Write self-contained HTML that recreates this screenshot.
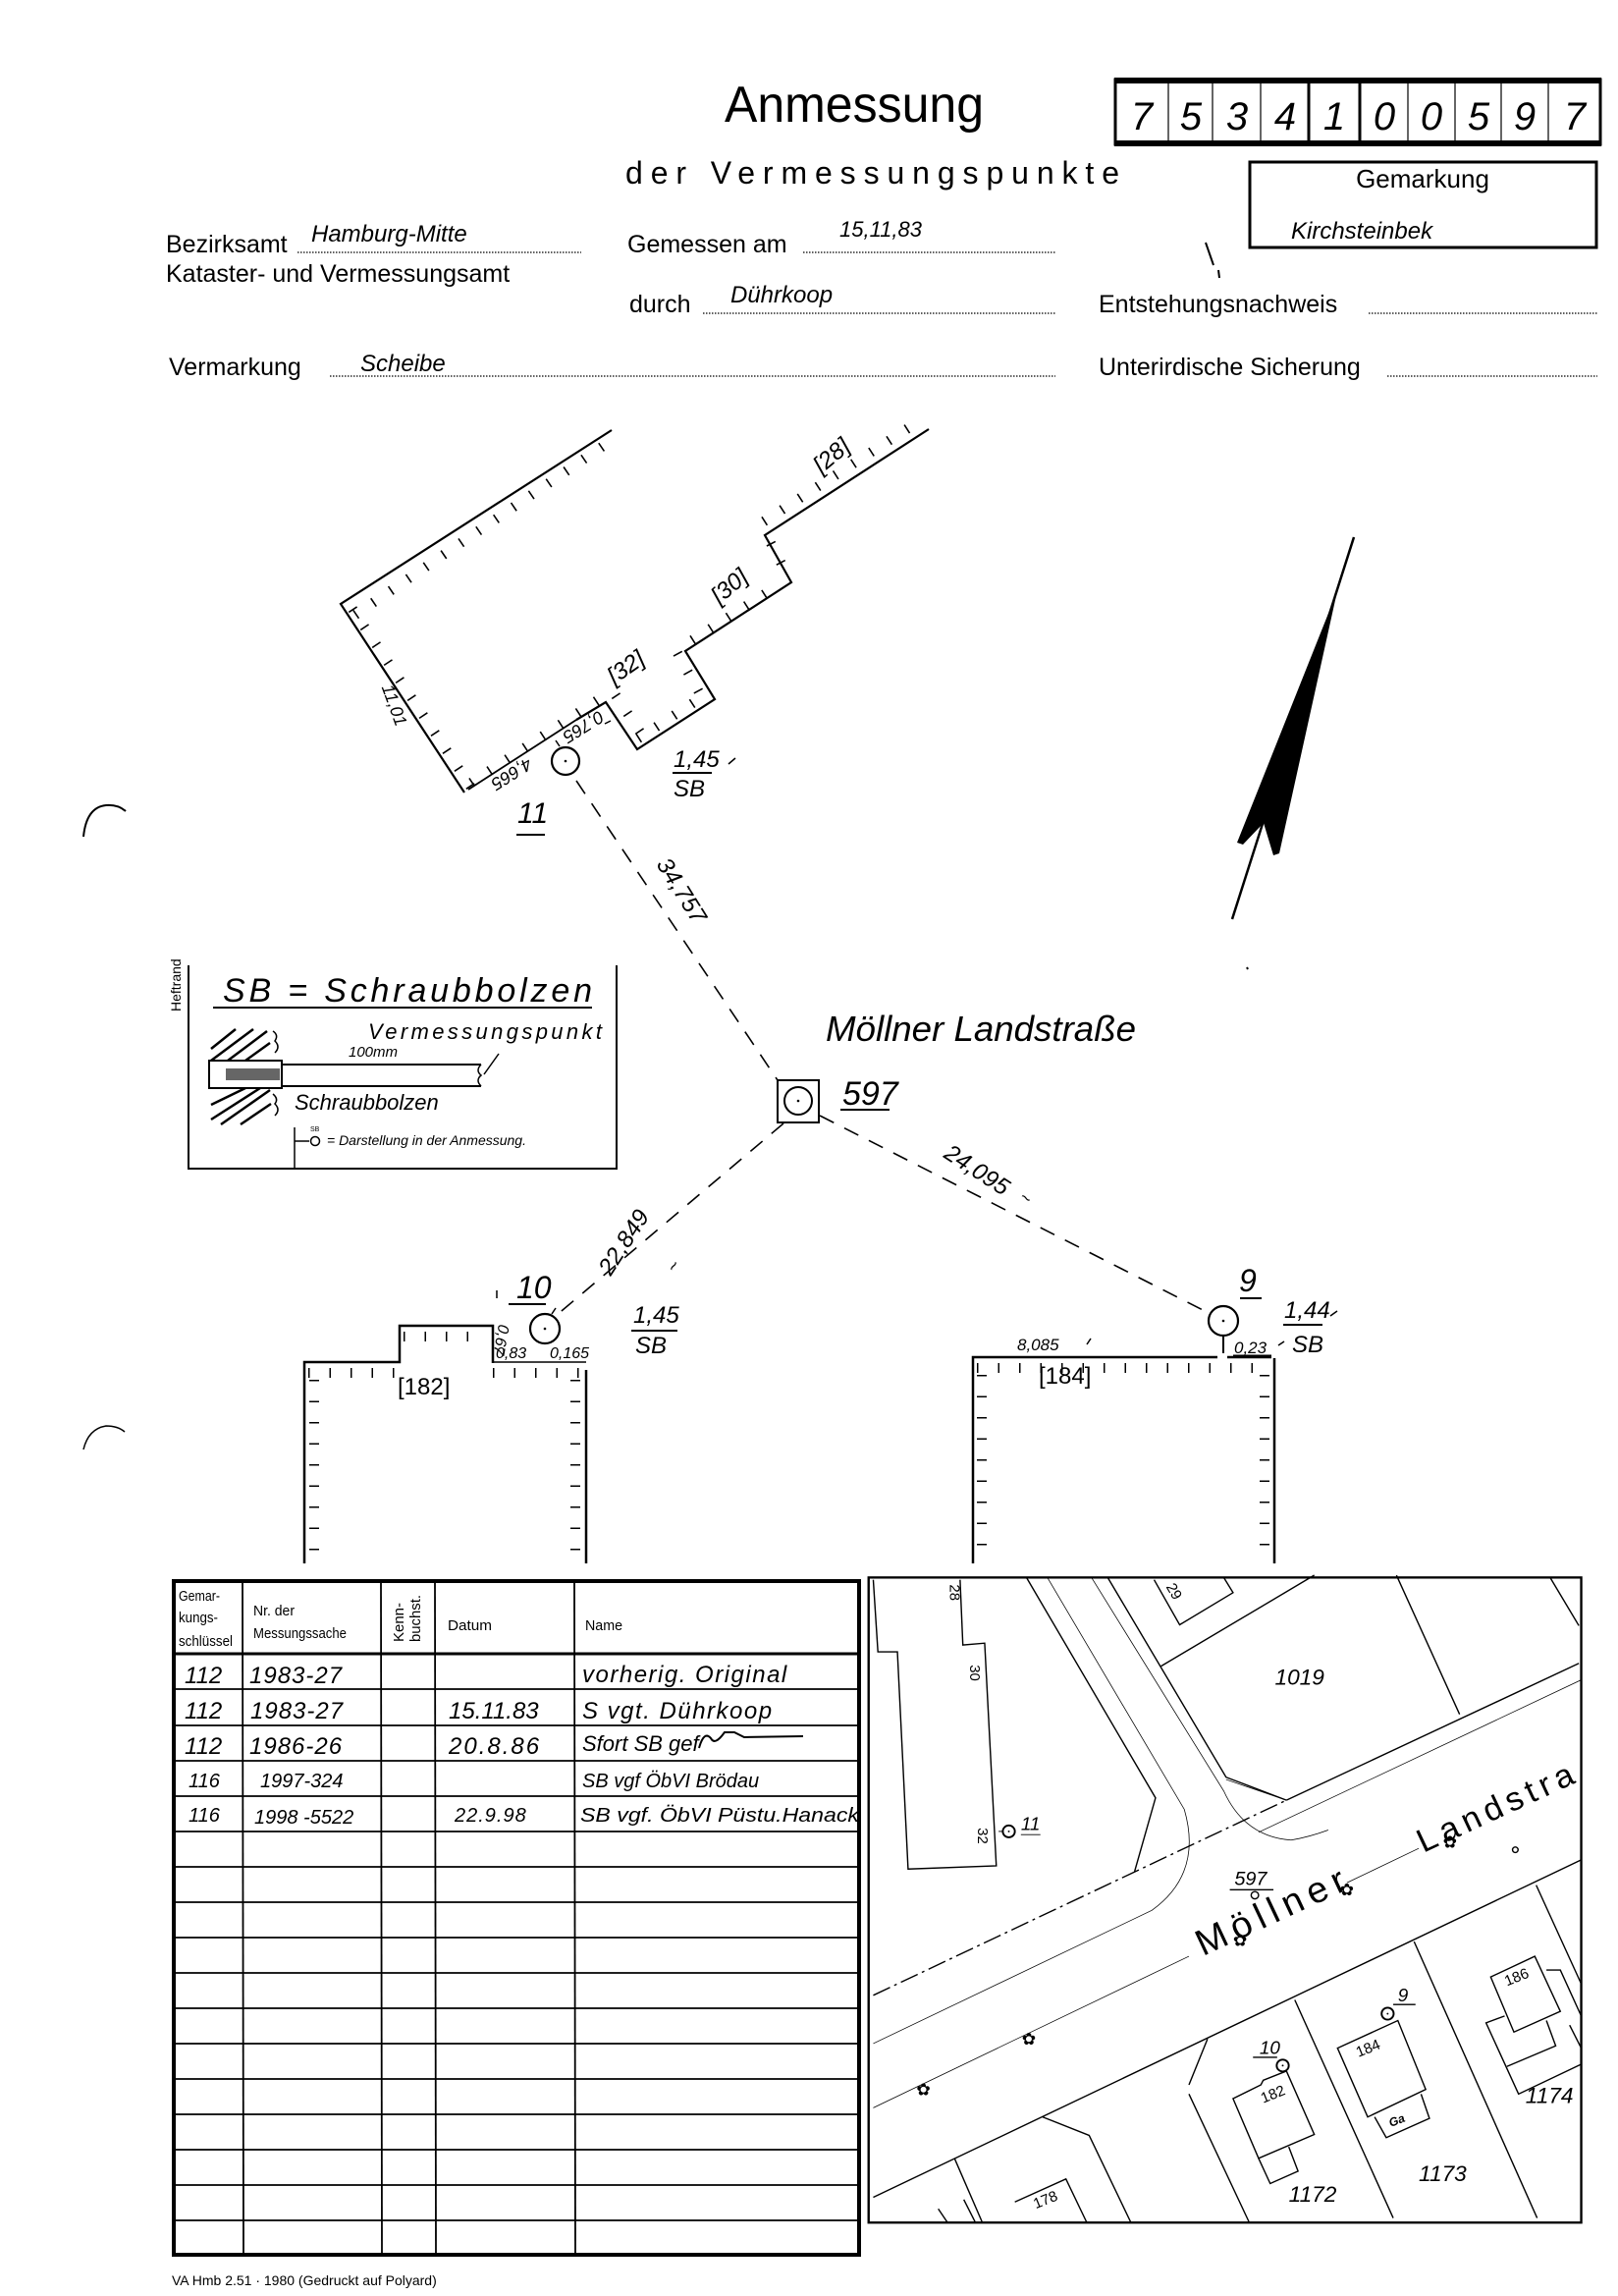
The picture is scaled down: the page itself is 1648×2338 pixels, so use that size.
<!DOCTYPE html>
<html><head><meta charset="utf-8"><style>
html,body{margin:0;padding:0;background:#fff}
svg{display:block}
text{font-family:"Liberation Sans",sans-serif;fill:#000}
.h{font-style:italic}
</style></head><body>
<svg width="1648" height="2338" viewBox="0 0 1648 2338" xmlns="http://www.w3.org/2000/svg">
<!-- HEADER -->
<text x="738" y="124" font-size="52" textLength="264" lengthAdjust="spacingAndGlyphs">Anmessung</text>
<text x="637" y="187" font-size="32" textLength="503" lengthAdjust="spacing">der Vermessungspunkte</text>
<rect x="1136" y="81" width="494" height="66" fill="none" stroke="#000" stroke-width="3"/>
<rect x="1135" y="79" width="496" height="6" fill="#000"/>
<rect x="1135" y="143" width="496" height="6" fill="#000"/>
<g stroke="#000" stroke-width="1.2">
<line x1="1190" y1="82" x2="1190" y2="146"/><line x1="1235" y1="82" x2="1235" y2="146"/><line x1="1284" y1="82" x2="1284" y2="146"/>
<line x1="1434" y1="82" x2="1434" y2="146"/><line x1="1482" y1="82" x2="1482" y2="146"/><line x1="1529" y1="82" x2="1529" y2="146"/><line x1="1577" y1="82" x2="1577" y2="146"/>
</g>
<g stroke="#000" stroke-width="3"><line x1="1333" y1="82" x2="1333" y2="146"/><line x1="1385" y1="82" x2="1385" y2="146"/></g>
<g font-size="40" class="h" text-anchor="middle">
<text x="1163" y="132" class="h">7</text><text x="1213" y="132" class="h">5</text><text x="1260" y="132" class="h">3</text><text x="1309" y="132" class="h">4</text><text x="1359" y="132" class="h">1</text><text x="1410" y="132" class="h">0</text><text x="1458" y="132" class="h">0</text><text x="1506" y="132" class="h">5</text><text x="1553" y="132" class="h">9</text><text x="1604" y="132" class="h">7</text>
</g>
<rect x="1273" y="165" width="353" height="87" fill="none" stroke="#000" stroke-width="3"/>
<text x="1449" y="191" font-size="26" text-anchor="middle">Gemarkung</text>
<text x="1315" y="243" font-size="24" class="h">Kirchsteinbek</text>
<path d="M1228 247 L1236 270 M1241 275 L1242 283" stroke="#000" stroke-width="2" fill="none"/>
<g font-size="25">
<text x="169" y="257">Bezirksamt</text>
<text x="169" y="287">Kataster- und Vermessungsamt</text>
<text x="639" y="257">Gemessen am</text>
<text x="641" y="318">durch</text>
<text x="1119" y="318">Entstehungsnachweis</text>
<text x="172" y="382">Vermarkung</text>
<text x="1119" y="382">Unterirdische Sicherung</text>
</g>
<g font-size="24" class="h">
<text x="317" y="246" class="h">Hamburg-Mitte</text>
<text x="855" y="241" font-size="22" class="h">15,11,83</text>
<text x="744" y="308" class="h">Dührkoop</text>
<text x="367" y="378" class="h">Scheibe</text>
</g>
<g stroke="#000" stroke-width="1.2" stroke-dasharray="1.5 1.5">
<line x1="303" y1="257" x2="592" y2="257"/>
<line x1="818" y1="257" x2="1075" y2="257"/>
<line x1="716" y1="319" x2="1075" y2="319"/>
<line x1="1394" y1="319" x2="1627" y2="319"/>
<line x1="336" y1="383" x2="1075" y2="383"/>
<line x1="1413" y1="383" x2="1627" y2="383"/>
</g>
<path d="M85 852 Q88 822 108 820 Q120 819 128 826" fill="none" stroke="#000" stroke-width="2"/>
<path d="M85 1476 Q90 1455 108 1452 Q120 1452 127 1458" fill="none" stroke="#000" stroke-width="1.5"/>

<!-- BUILDING 11 -->
<polyline points="623,438 347,615 473,807" fill="none" stroke="#000" stroke-width="2.2"/>
<polyline points="477,804 587,733" fill="none" stroke="#000" stroke-width="1.8"/>
<polyline points="587,733 617,715 649,763 728,712 698,663 806,593 779,545 946,437" fill="none" stroke="#000" stroke-width="2.2"/>
<g stroke="#000" stroke-width="10" stroke-dasharray="1.6 20" fill="none">
<line x1="362" y1="626" x2="616" y2="453"/>
<line x1="359" y1="620" x2="482" y2="805"/>
<line x1="480" y1="797" x2="610" y2="712"/>
<line x1="627" y1="708" x2="659" y2="756"/>
<line x1="650" y1="752" x2="718" y2="708"/>
<line x1="690" y1="665" x2="712" y2="705"/>
<line x1="705" y1="652" x2="796" y2="594"/>
<line x1="785" y1="553" x2="800" y2="582"/>
<line x1="778" y1="531" x2="939" y2="427"/>
</g>
<g font-size="24" class="h">
<text transform="translate(852,470) rotate(-40)" text-anchor="middle">[28]</text>
<text transform="translate(748,603) rotate(-40)" text-anchor="middle">[30]</text>
<text transform="translate(642,686) rotate(-35)" text-anchor="middle">[32]</text>
<text transform="translate(396,720) rotate(70)" font-size="18" text-anchor="middle">11,01</text>
<text transform="translate(518,783) rotate(148)" font-size="18" text-anchor="middle">4,665</text>
<text transform="translate(591,735) rotate(148)" font-size="18" text-anchor="middle">0,765</text>
</g>
<line x1="616" y1="737" x2="622" y2="734" stroke="#000" stroke-width="1.5"/>
<circle cx="576" cy="775" r="14" fill="none" stroke="#000" stroke-width="2.2"/>
<circle cx="576" cy="775" r="1.3"/>
<line x1="570" y1="760" x2="566" y2="754" stroke="#000" stroke-width="1.5"/>
<text x="527" y="838" font-size="30" class="h">11</text>
<line x1="526" y1="850" x2="555" y2="850" stroke="#000" stroke-width="2"/>
<text x="686" y="781" font-size="24" class="h">1,45</text>
<line x1="685" y1="787" x2="725" y2="787" stroke="#000" stroke-width="2"/>
<text x="686" y="811" font-size="24" class="h">SB</text>
<line x1="742" y1="778" x2="749" y2="772" stroke="#000" stroke-width="1.5"/>

<g stroke="#000" stroke-width="1.6" stroke-dasharray="16 12" fill="none">
<line x1="587" y1="795" x2="792" y2="1100"/>
<line x1="798" y1="1144" x2="566" y2="1340"/>
<line x1="835" y1="1136" x2="1233" y2="1338"/>
</g>
<text transform="translate(668,880) rotate(58)" font-size="24" class="h">34,757</text>
<text transform="translate(622,1300) rotate(-57)" font-size="24" class="h">22,849</text>
<text transform="translate(960,1178) rotate(33)" font-size="24" class="h">24,095</text>
<text transform="translate(688,1297) rotate(-57)" font-size="18" class="h">~</text>
<text transform="translate(1037,1222) rotate(33)" font-size="18" class="h">~</text>

<rect x="792" y="1100" width="42" height="43" fill="none" stroke="#000" stroke-width="2"/>
<circle cx="813" cy="1121" r="14" fill="none" stroke="#000" stroke-width="2"/>
<circle cx="813" cy="1121" r="1.3"/>
<text x="858" y="1125" font-size="34" class="h">597</text>
<line x1="856" y1="1130" x2="906" y2="1130" stroke="#000" stroke-width="2"/>
<text x="841" y="1060" font-size="36" class="h" textLength="316" lengthAdjust="spacingAndGlyphs">Möllner Landstraße</text>

<line x1="1379" y1="547" x2="1255" y2="936" stroke="#000" stroke-width="2.5"/>
<polygon points="1362,602 1260,858 1266,860 1287,838 1297,871 1303,869" fill="#000"/>
<path d="M1270 985 l1 2" stroke="#000" stroke-width="2"/>

<!-- Legend -->
<polyline points="192,983 192,1190 628,1190 628,983" fill="none" stroke="#000" stroke-width="2"/>
<text transform="translate(184,1030) rotate(-90)" font-size="14">Heftrand</text>
<text x="227" y="1020" font-size="34" class="h" textLength="376" lengthAdjust="spacing">SB = Schraubbolzen</text>
<line x1="217" y1="1026" x2="603" y2="1026" stroke="#000" stroke-width="2"/>
<text x="375" y="1058" font-size="22" class="h" textLength="238" lengthAdjust="spacing">Vermessungspunkt</text>
<text x="355" y="1076" font-size="15" class="h">100mm</text>
<g stroke="#000" stroke-width="2.5">
<line x1="215" y1="1068" x2="240" y2="1048"/><line x1="215" y1="1080" x2="258" y2="1048"/><line x1="232" y1="1080" x2="272" y2="1050"/><line x1="250" y1="1080" x2="275" y2="1062"/>
<line x1="215" y1="1125" x2="250" y2="1108"/><line x1="215" y1="1140" x2="265" y2="1108"/><line x1="225" y1="1145" x2="275" y2="1110"/><line x1="245" y1="1145" x2="276" y2="1124"/>
</g>
<rect x="213" y="1080" width="74" height="28" fill="none" stroke="#000" stroke-width="2"/>
<rect x="230" y="1088" width="55" height="12" fill="#000" opacity=".6"/>
<line x1="287" y1="1084" x2="490" y2="1084" stroke="#000" stroke-width="2"/>
<line x1="287" y1="1106" x2="490" y2="1106" stroke="#000" stroke-width="2"/>
<path d="M490 1084 q-6 6 0 11 q-6 5 0 11 M493 1094 L508 1073" fill="none" stroke="#000" stroke-width="1.5"/>
<path d="M278 1050 q6 4 2 10 q6 6 0 12 M278 1114 q6 5 2 10 q6 6 0 12" fill="none" stroke="#000" stroke-width="1.5"/>
<text x="300" y="1130" font-size="22" class="h">Schraubbolzen</text>
<polyline points="300,1148 300,1190" stroke="#000" stroke-width="1.5"/>
<line x1="300" y1="1162" x2="315" y2="1162" stroke="#000" stroke-width="1.5"/>
<circle cx="321" cy="1162" r="4.5" fill="none" stroke="#000" stroke-width="1.5"/>
<text x="316" y="1152" font-size="7">SB</text>
<text x="333" y="1166" font-size="14" class="h">= Darstellung in der Anmessung.</text>

<!-- Building 182 -->
<polyline points="310,1592 310,1387 407,1387 407,1350 502,1350 502,1388" fill="none" stroke="#000" stroke-width="2.5"/>
<line x1="502" y1="1387" x2="597" y2="1387" stroke="#000" stroke-width="1.5"/>
<line x1="597" y1="1395" x2="597" y2="1592" stroke="#000" stroke-width="2.5"/>
<g stroke="#000" stroke-width="10" stroke-dasharray="1.5 20" fill="none">
<line x1="314" y1="1398" x2="404" y2="1398"/><line x1="411" y1="1361" x2="496" y2="1361"/><line x1="502" y1="1398" x2="592" y2="1398"/>
<line x1="320" y1="1405" x2="320" y2="1590"/><line x1="586" y1="1405" x2="586" y2="1590"/>
</g>
<text x="405" y="1420" font-size="24">[182]</text>
<circle cx="555" cy="1353" r="15" fill="none" stroke="#000" stroke-width="2.2"/>
<circle cx="555" cy="1353" r="1.3"/>
<line x1="562" y1="1338" x2="566" y2="1332" stroke="#000" stroke-width="1.5"/>
<text x="526" y="1322" font-size="32" class="h">10</text>
<line x1="518" y1="1328" x2="556" y2="1328" stroke="#000" stroke-width="2"/>
<text x="505" y="1383" font-size="16" class="h">0,83</text>
<text x="560" y="1383" font-size="16" class="h">0,165</text>
<text transform="translate(508,1348) rotate(100)" font-size="16" class="h">0,67</text>
<line x1="506" y1="1314" x2="506" y2="1322" stroke="#000" stroke-width="1.5"/>
<text x="645" y="1347" font-size="24" class="h">1,45</text>
<line x1="643" y1="1355" x2="690" y2="1355" stroke="#000" stroke-width="2"/>
<text x="647" y="1378" font-size="24" class="h">SB</text>

<!-- Building 184 -->
<polyline points="991,1592 991,1382 1240,1382" fill="none" stroke="#000" stroke-width="2.5"/>
<line x1="1250" y1="1382" x2="1295" y2="1382" stroke="#000" stroke-width="2.5"/>
<line x1="1298" y1="1383" x2="1298" y2="1592" stroke="#000" stroke-width="2.5"/>
<g stroke="#000" stroke-width="10" stroke-dasharray="1.5 20" fill="none">
<line x1="995" y1="1393" x2="1295" y2="1393"/><line x1="1000" y1="1400" x2="1000" y2="1590"/><line x1="1288" y1="1400" x2="1288" y2="1590"/>
</g>
<text x="1058" y="1409" font-size="24">[184]</text>
<text x="1036" y="1375" font-size="17" class="h">8,085</text>
<line x1="1107" y1="1369" x2="1111" y2="1363" stroke="#000" stroke-width="1.5"/>
<circle cx="1246" cy="1345" r="15" fill="none" stroke="#000" stroke-width="2.2"/>
<circle cx="1246" cy="1345" r="1.3"/>
<line x1="1246" y1="1360" x2="1246" y2="1378" stroke="#000" stroke-width="2"/>
<text x="1262" y="1315" font-size="32" class="h">9</text>
<line x1="1263" y1="1322" x2="1285" y2="1322" stroke="#000" stroke-width="2"/>
<text x="1257" y="1378" font-size="17" class="h">0,23</text>
<line x1="1256" y1="1381" x2="1295" y2="1381" stroke="#000" stroke-width="3"/>
<text x="1308" y="1342" font-size="24" class="h">1,44</text>
<line x1="1307" y1="1349" x2="1347" y2="1349" stroke="#000" stroke-width="2"/>
<text x="1316" y="1377" font-size="24" class="h">SB</text>
<line x1="1302" y1="1370" x2="1308" y2="1366" stroke="#000" stroke-width="1.5"/>
<line x1="1355" y1="1340" x2="1362" y2="1335" stroke="#000" stroke-width="1.5"/>

<!-- TABLE -->
<rect x="177" y="1610" width="698" height="686" fill="none" stroke="#000" stroke-width="4"/>
<line x1="177" y1="1684" x2="875" y2="1684" stroke="#000" stroke-width="3"/>
<g stroke="#000" stroke-width="1.8">
<line x1="247" y1="1610" x2="248" y2="2296"/><line x1="388" y1="1610" x2="389" y2="2296"/><line x1="443" y1="1610" x2="444" y2="2296"/><line x1="585" y1="1610" x2="586" y2="2296"/>
<line x1="177" y1="1720" x2="875" y2="1720"/><line x1="177" y1="1757" x2="875" y2="1757"/><line x1="177" y1="1793" x2="875" y2="1793"/><line x1="177" y1="1829" x2="875" y2="1829"/><line x1="177" y1="1865" x2="875" y2="1865"/>
<line x1="177" y1="1901" x2="875" y2="1901"/><line x1="177" y1="1937" x2="875" y2="1937"/><line x1="177" y1="1973" x2="875" y2="1973"/><line x1="177" y1="2009" x2="875" y2="2009"/><line x1="177" y1="2045" x2="875" y2="2045"/>
<line x1="177" y1="2081" x2="875" y2="2081"/><line x1="177" y1="2117" x2="875" y2="2117"/><line x1="177" y1="2153" x2="875" y2="2153"/><line x1="177" y1="2189" x2="875" y2="2189"/><line x1="177" y1="2225" x2="875" y2="2225"/><line x1="177" y1="2261" x2="875" y2="2261"/>
</g>
<g font-size="15">
<text x="182" y="1630" textLength="42" lengthAdjust="spacingAndGlyphs">Gemar-</text>
<text x="182" y="1652" textLength="40" lengthAdjust="spacingAndGlyphs">kungs-</text>
<text x="182" y="1676" textLength="55" lengthAdjust="spacingAndGlyphs">schlüssel</text>
<text x="258" y="1645" textLength="42" lengthAdjust="spacingAndGlyphs">Nr. der</text>
<text x="258" y="1668" textLength="95" lengthAdjust="spacingAndGlyphs">Messungssache</text>
<text transform="translate(411,1672) rotate(-90)" textLength="40" lengthAdjust="spacingAndGlyphs">Kenn-</text>
<text transform="translate(428,1672) rotate(-90)" textLength="48" lengthAdjust="spacingAndGlyphs">buchst.</text>
<text x="456" y="1660" textLength="45" lengthAdjust="spacingAndGlyphs">Datum</text>
<text x="596" y="1660" textLength="38" lengthAdjust="spacingAndGlyphs">Name</text>
</g>
<g font-size="24" class="h">
<text x="188" y="1714" class="h">112</text><text x="254" y="1714" class="h" letter-spacing="1">1983-27</text><text x="593" y="1713" class="h" letter-spacing="1.5">vorherig. Original</text>
<text x="188" y="1750" class="h">112</text><text x="255" y="1750" class="h" letter-spacing="1">1983-27</text><text x="457" y="1750" class="h">15.11.83</text><text x="593" y="1750" class="h" letter-spacing="1.5">S vgt. Dührkoop</text>
<text x="188" y="1786" class="h">112</text><text x="254" y="1786" class="h" letter-spacing="1">1986-26</text><text x="457" y="1786" class="h" letter-spacing="2">20.8.86</text><text x="593" y="1783" class="h" font-size="22">Sfort SB gef</text>
</g>
<path d="M712 1780 q5 -18 12 -10 q4 8 14 -6 l10 0 l10 5 l60 -1" fill="none" stroke="#000" stroke-width="2"/>
<g font-size="20" class="h">
<text x="192" y="1820" class="h">116</text><text x="265" y="1820" class="h">1997-324</text><text x="593" y="1820" class="h">SB vgf ÖbVI Brödau</text>
<text x="192" y="1855" class="h">116</text><text x="259" y="1857" class="h">1998 -5522</text><text x="463" y="1855" class="h" letter-spacing="1">22.9.98</text><text x="591" y="1855" class="h" textLength="284" lengthAdjust="spacingAndGlyphs">SB vgf. ÖbVI Püstu.Hanack</text>
</g>
<text x="175" y="2327" font-size="14">VA Hmb 2.51 · 1980 (Gedruckt auf Polyard)</text>

<!-- MAP -->
<svg x="880" y="1590" width="740" height="720" viewBox="0 0 1565 1540" preserveAspectRatio="none">
<rect x="10" y="35" width="1535" height="1405" fill="none" stroke="#000" stroke-width="5"/>
<g fill="none" stroke="#000" stroke-width="3">
<polyline points="20,40 30,197 72,197 95,670 285,663 260,178 213,182 207,40"/>
<polyline points="350,35 628,515 583,675"/>
<polyline points="525,35 780,470 910,520"/>
<polyline points="625,40 680,138 795,68 775,35"/>
<line x1="640" y1="228" x2="970" y2="30"/>
<line x1="1147" y1="30" x2="1283" y2="333"/>
<line x1="1478" y1="35" x2="1540" y2="140"/>
<line x1="910" y1="520" x2="1540" y2="222"/>
<line x1="20" y1="1385" x2="1545" y2="650"/>
<line x1="195" y1="1300" x2="255" y2="1440"/>
<polyline points="385,1210 485,1250 575,1440"/>
<line x1="740" y1="1040" x2="700" y2="1140"/>
<line x1="700" y1="1160" x2="830" y2="1440"/>
<line x1="928" y1="955" x2="1140" y2="1430"/>
<line x1="1185" y1="828" x2="1450" y2="1430"/>
<line x1="1448" y1="705" x2="1545" y2="920"/>
<polygon points="795,1170 855,1140 860,1130 910,1110 970,1248 850,1300"/>
<polyline points="850,1300 875,1355 935,1328 915,1275"/>
<polygon points="1020,1060 1150,1000 1210,1150 1085,1210"/>
<polyline points="1100,1210 1125,1255 1218,1213 1200,1160"/>
<polygon points="1350,905 1445,860 1500,980 1400,1025"/>
<polyline points="1380,990 1340,1005 1410,1160 1545,1095"/>
<polyline points="1470,1000 1490,1055 1385,1100"/>
<polyline points="1470,890 1500,890 1545,990"/>
<polyline points="1520,1010 1545,1060"/>
<polyline points="325,1395 435,1345 480,1440"/>
<line x1="160" y1="1410" x2="180" y2="1440"/><line x1="215" y1="1390" x2="240" y2="1440"/>
</g>
<g fill="none" stroke="#000" stroke-width="1.6">
<path d="M395 35 L690 540 Q730 680 620 760 L20 1050"/>
<path d="M490 35 L775 500 Q820 600 920 607 Q960 600 1000 585"/>
<line x1="850" y1="590" x2="1545" y2="258"/>
<line x1="20" y1="1190" x2="700" y2="860"/>
<line x1="1040" y1="700" x2="1195" y2="625"/>
<line x1="780" y1="475" x2="910" y2="520"/>
</g>
<line x1="20" y1="945" x2="910" y2="520" stroke="#000" stroke-width="3" stroke-dasharray="40 10 6 10"/>
<g font-size="32">
<text transform="translate(185,50) rotate(90)">28</text>
<text transform="translate(228,225) rotate(90)">30</text>
<text transform="translate(245,580) rotate(90)">32</text>
<text transform="translate(650,55) rotate(60)">29</text>
<text transform="translate(860,1180) rotate(-22)">182</text>
<text transform="translate(1065,1080) rotate(-22)">184</text>
<text transform="translate(1385,925) rotate(-22)">186</text>
<text transform="translate(370,1410) rotate(-22)">178</text>
<text transform="translate(1135,1232) rotate(-22)" class="h" font-weight="bold" font-size="26">Ga</text>
</g>
<g font-size="48" class="h">
<text x="885" y="268" class="h">1019</text>
<text x="915" y="1395" class="h">1172</text>
<text x="1195" y="1350" class="h">1173</text>
<text x="1425" y="1180" class="h">1174</text>
</g>
<text transform="translate(730,860) rotate(-25)" font-size="80" letter-spacing="14">Möllner</text>
<text transform="translate(1205,635) rotate(-25)" font-size="72" letter-spacing="12">Landstra</text>
<circle cx="312" cy="588" r="13" fill="none" stroke="#000" stroke-width="4"/><circle cx="312" cy="588" r="2"/>
<line x1="290" y1="588" x2="299" y2="588" stroke="#000" stroke-width="2"/>
<text x="338" y="585" font-size="40" class="h">11</text><line x1="338" y1="595" x2="380" y2="595" stroke="#000" stroke-width="2"/>
<circle cx="842" cy="727" r="8" fill="none" stroke="#000" stroke-width="3"/>
<text x="798" y="705" font-size="42" class="h">597</text><line x1="788" y1="715" x2="882" y2="715" stroke="#000" stroke-width="3"/>
<circle cx="902" cy="1098" r="13" fill="none" stroke="#000" stroke-width="4"/><circle cx="902" cy="1098" r="2"/>
<text x="852" y="1073" font-size="40" class="h">10</text><line x1="838" y1="1080" x2="890" y2="1080" stroke="#000" stroke-width="3"/>
<circle cx="1128" cy="985" r="13" fill="none" stroke="#000" stroke-width="4"/><circle cx="1128" cy="985" r="2"/>
<text x="1150" y="958" font-size="40" class="h">9</text><line x1="1140" y1="965" x2="1188" y2="965" stroke="#000" stroke-width="3"/>
<g font-size="36" text-anchor="middle"><text x="355" y="1052">✿</text><text x="128" y="1162">✿</text><text x="810" y="837">✿</text><text x="1040" y="727">✿</text><text x="1262" y="624">✿</text></g>
<circle cx="1403" cy="628" r="6" fill="none" stroke="#000" stroke-width="3"/>
</svg>
</svg>
</body></html>
